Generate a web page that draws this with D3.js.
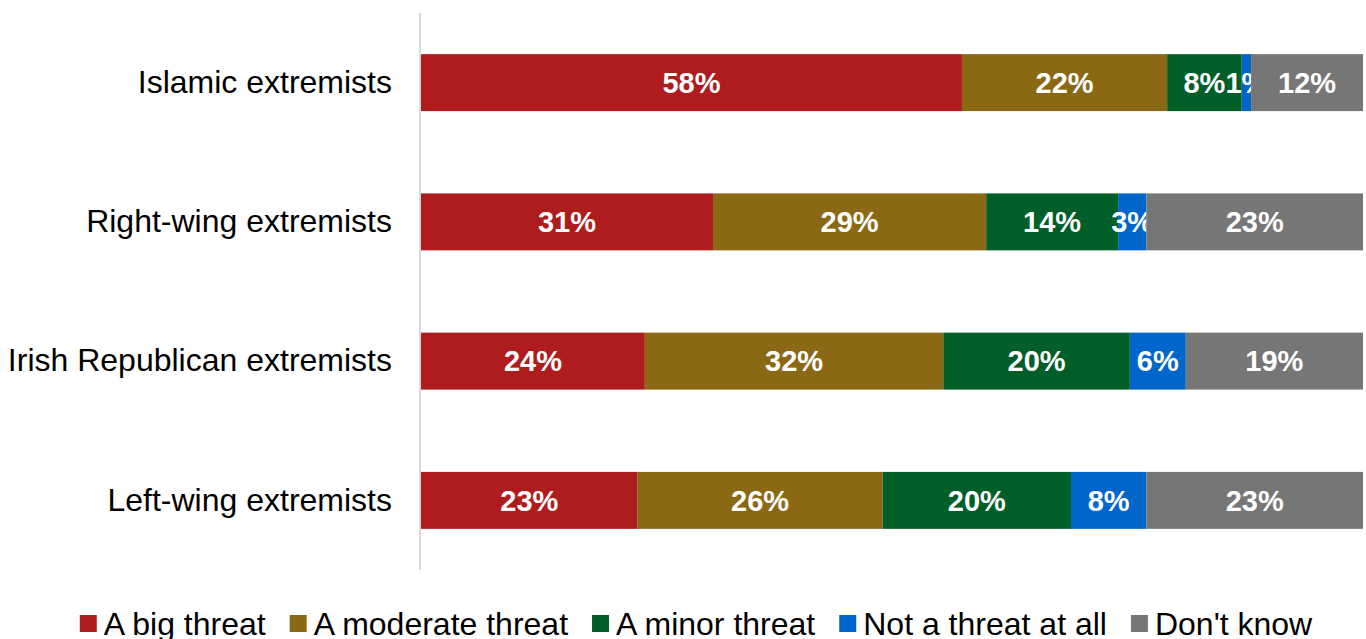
<!DOCTYPE html>
<html>
<head>
<meta charset="utf-8">
<script src="https://cdn.jsdelivr.net/npm/d3@7/dist/d3.min.js"></script>
<style>
  html, body { margin: 0; padding: 0; background: #fff; }
  svg { display: block; font-family: Arial, "Liberation Sans", sans-serif; }
</style>
</head>
<body>
<svg id="chart" width="1366" height="639"></svg>
<script>
// Perceived threat level by group (percent of respondents)
const categories = ["Islamic extremists", "Right-wing extremists", "Irish Republican extremists", "Left-wing extremists"];
const seriesNames = ["A big threat", "A moderate threat", "A minor threat", "Not a threat at all", "Don't know"];
const bigThreat      = [58, 31, 24, 23];
const moderateThreat = [22, 29, 32, 26];
const minorThreat    = [8, 14, 20, 20];
const notAThreat     = [1, 3, 6, 8];
const dontKnow       = [12, 23, 19, 23];
const seriesColors = ["#AE1C1E", "#8B6914", "#005E28", "#0066CC", "#767676"];

const seriesValues = [bigThreat, moderateThreat, minorThreat, notAThreat, dontKnow];
const rows = categories.map((c, i) => {
  const r = { category: c };
  seriesNames.forEach((s, j) => { r[s] = seriesValues[j][i]; });
  return r;
});

const svg = d3.select("#chart");

const x = d3.scaleLinear().domain([0, 1]).range([421, 1363]);
const y = d3.scaleBand().domain(categories).range([13, 570])
  .paddingInner(0.591).paddingOuter(0.2955);
const color = d3.scaleOrdinal().domain(seriesNames).range(seriesColors);

// 100% stacked layout
const stacked = d3.stack().keys(seriesNames).offset(d3.stackOffsetExpand)(rows);

const layers = svg.append("g").selectAll("g")
  .data(stacked).join("g")
  .attr("fill", d => color(d.key));

layers.selectAll("rect")
  .data(d => d.map(p => ({ key: d.key, p })))
  .join("rect")
  .attr("x", d => x(d.p[0]))
  .attr("y", d => y(d.p.data.category))
  .attr("width", d => x(d.p[1]) - x(d.p[0]))
  .attr("height", y.bandwidth());

// value labels centred in each segment
layers.selectAll("text")
  .data(d => d.map(p => ({ key: d.key, p })))
  .join("text")
  .attr("x", d => (x(d.p[0]) + x(d.p[1])) / 2)
  .attr("y", d => y(d.p.data.category) + y.bandwidth() / 2)
  .attr("dy", "0.35em")
  .attr("text-anchor", "middle")
  .attr("fill", "#fff")
  .attr("font-weight", "bold")
  .attr("font-size", 29)
  .text(d => d.p.data[d.key] + "%");

// category axis
const yAxis = svg.append("g")
  .attr("transform", "translate(420,0)")
  .call(d3.axisLeft(y).tickSize(0).tickPadding(28));
yAxis.select(".domain").attr("stroke", "#D9D9D9").attr("stroke-width", 2)
  .attr("d", "M0,13V570");
yAxis.selectAll(".tick text")
  .attr("font-size", 32)
  .attr("font-family", "Arial, 'Liberation Sans', sans-serif")
  .attr("fill", "#000");

// legend
const legend = svg.append("g");
const items = legend.selectAll("g").data(seriesNames).join("g");
items.append("rect")
  .attr("width", 17).attr("height", 17)
  .attr("y", 615)
  .attr("fill", d => color(d));
items.append("text")
  .attr("x", 24).attr("y", 635)
  .attr("font-size", 32)
  .attr("fill", "#000")
  .text(d => d);

const widths = [];
items.each(function () {
  const w = this.querySelector("text").getComputedTextLength();
  widths.push(24 + w);
});
const gap = 24;
const total = d3.sum(widths) + gap * (widths.length - 1);
let cursor = 696 - total / 2;
items.attr("transform", (d, i) => {
  const t = `translate(${cursor},0)`;
  cursor += widths[i] + gap;
  return t;
});
</script>
</body>
</html>
